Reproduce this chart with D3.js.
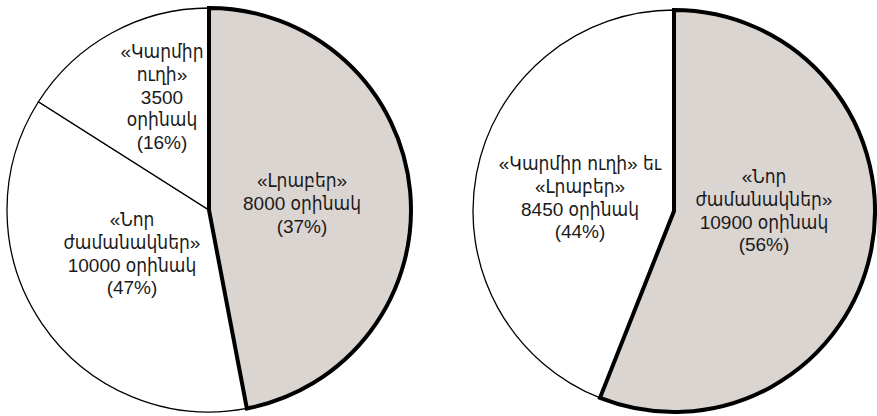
<!DOCTYPE html>
<html>
<head>
<meta charset="utf-8">
<script src="https://cdn.jsdelivr.net/npm/d3@7"></script>
<style>
  html, body { margin: 0; padding: 0; background: #fff; }
  svg { display: block; }
  text { font-family: "Liberation Sans", "DejaVu Sans Condensed", "DejaVu Sans", sans-serif; font-size: 19px; fill: #1a1a1a; }
</style>
</head>
<body>
<svg id="chart" width="877" height="416"></svg>
<script>
// ---- Data ----
// Left pie
const leftNames     = [["«Լրաբեր»"], ["«Նոր", "ժամանակներ»"], ["«Կարմիր", "ուղի»"]];
const leftCopies    = [8000, 10000, 3500];
const leftPercents  = [37, 47, 16];
const leftDrawnShares = [47, 37, 16];   // slice sizes as drawn in the original figure
const leftHighlight = [true, false, false];

// Right pie
const rightNames     = [["«Նոր", "ժամանակներ»"], ["«Կարմիր ուղի» եւ", "«Լրաբեր»"]];
const rightCopies    = [10900, 8450];
const rightPercents  = [56, 44];
const rightDrawnShares = [56, 44];
const rightHighlight = [true, false];

const unitWord = "օրինակ";

// ---- Layout ----
const svg = d3.select("#chart");
svg.append("rect").attr("width", 877).attr("height", 416).attr("fill", "#fff");

const lineH = 22.8;
const greyFill = "#dbd5d2";

function drawPie(cfg) {
  const g = svg.append("g").attr("transform", `translate(${cfg.cx},${cfg.cy})`);
  const data = cfg.shares.map((s, i) => ({
    share: s, names: cfg.names[i], copies: cfg.copies[i], pct: cfg.percents[i],
    hi: cfg.highlight[i], lab: cfg.labels[i]
  }));
  const pie = d3.pie().sort(null).value(d => d.share).startAngle(0).endAngle(2 * Math.PI);
  const arcs = pie(data);
  const arc = d3.arc().innerRadius(0).outerRadius(cfg.r);

  const ordered = arcs.filter(a => !a.data.hi).concat(arcs.filter(a => a.data.hi));
  g.selectAll("path.slice").data(ordered).join("path")
    .attr("class", "slice")
    .attr("d", arc)
    .attr("fill", d => d.data.hi ? greyFill : "#fff")
    .attr("stroke", "#000")
    .attr("stroke-width", d => d.data.hi ? 4 : 1.3)
    .attr("stroke-linejoin", "miter");

  arcs.forEach(a => {
    const d = a.data;
    let lines = d.names.slice();
    if (d.lab.splitCount) { lines.push(String(d.copies)); lines.push(unitWord); }
    else lines.push(`${d.copies} ${unitWord}`);
    lines.push(`(${d.pct}%)`);
    const t = g.append("text").attr("text-anchor", "middle");
    lines.forEach((ln, k) => {
      t.append("tspan").attr("x", d.lab.x).attr("y", d.lab.y + k * lineH).text(ln);
    });
  });
}

drawPie({
  cx: 209, cy: 210, r: 202,
  shares: leftDrawnShares, names: leftNames, copies: leftCopies,
  percents: leftPercents, highlight: leftHighlight,
  labels: [ {x: 93, y: -23}, {x: -77, y: 16}, {x: -47, y: -152, splitCount: true} ]
});

drawPie({
  cx: 674, cy: 211, r: 201,
  shares: rightDrawnShares, names: rightNames, copies: rightCopies,
  percents: rightPercents, highlight: rightHighlight,
  labels: [ {x: 90, y: -28}, {x: -94, y: -41} ]
});
</script>
</body>
</html>
